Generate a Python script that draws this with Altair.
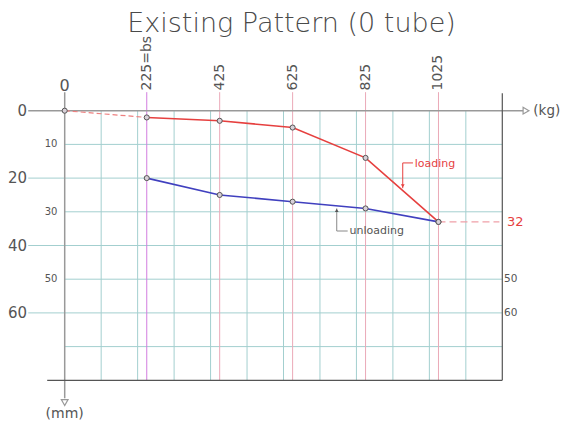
import altair as alt
import pandas as pd

# ---------------- data ----------------
title_text = "Existing Pattern (0 tube)"
loads_kg = [225, 425, 625, 825, 1025]
loading_mm = [2, 3, 5, 14, 33]
unloading_mm = [20, 25, 27, 29, 33]
origin_kg = [0, 225]
origin_mm = [0, 2]
final_label = "32"
x_tick_values = [0, 225, 425, 625, 825, 1025]
x_tick_labels = ["0", "225=bs", "425", "625", "825", "1025"]
y_major = [0, 20, 40, 60]
y_minor = [10, 30, 50]
y_right = [50, 60]
grid_kg = [100, 200, 300, 400, 500, 600, 700, 800, 900, 1000, 1100]
grid_mm = [10, 20, 30, 40, 50, 60, 70]
X_MAX, Y_MAX = 1200, 80

# ---------------- styles ----------------
TEAL = "#a3cfcf"
PINK = "#eba9b8"
MAGENTA = "#d27ddf"
RED = "#e6403f"
BLUE = "#4040bf"
AXIS = "#999999"
DARK = "#555555"
TXT = "#555555"
FONT = "DejaVu Sans"

xs = alt.Scale(domain=[0, X_MAX], nice=False, zero=False)
ys = alt.Scale(domain=[0, Y_MAX], nice=False, zero=False, reverse=True)


def X(f="x"):
    return alt.X(f"{f}:Q", scale=xs, axis=None)


def Y(f="y"):
    return alt.Y(f"{f}:Q", scale=ys, axis=None)


def seg(rows, color, width=1, dash=None):
    df = pd.DataFrame(rows, columns=["x", "y", "x2", "y2"])
    kw = dict(color=color, strokeWidth=width)
    if dash:
        kw["strokeDash"] = dash
    return alt.Chart(df).mark_rule(**kw).encode(
        x=X(), y=Y(), x2=alt.X2("x2:Q"), y2=alt.Y2("y2:Q"))


def text(df, **kw):
    base = dict(font=FONT, color=TXT)
    base.update(kw)
    return alt.Chart(df).mark_text(**base).encode(x=X(), y=Y(), text="t:N")


layers = []

# grid
layers.append(seg([[0, m, X_MAX, m] for m in grid_mm], TEAL))
layers.append(seg([[-100, m, 0, m] for m in y_major if m != 0], TEAL))
layers.append(seg([[k, 0, k, Y_MAX] for k in grid_kg], TEAL))
# load lines
layers.append(seg([[k, -5.5, k, Y_MAX] for k in x_tick_values[2:]], PINK))
layers.append(seg([[x_tick_values[1], -5.5, x_tick_values[1], Y_MAX]], MAGENTA))

# frame / axes
layers.append(seg([[-100, 0, 1257, 0]], AXIS, 1.5))
layers.append(seg([[0, -5.5, 0, 85.3]], AXIS, 1.5))
layers.append(seg([[-48, Y_MAX, X_MAX, Y_MAX]], DARK, 1.2))
layers.append(seg([[X_MAX, -5.2, X_MAX, Y_MAX]], DARK, 1.2))

# arrows on axes
layers.append(alt.Chart(pd.DataFrame({"x": [1265], "y": [0]})).mark_point(
    shape="triangle-right", filled=False, size=45, color=AXIS, strokeWidth=1.2, opacity=1
).encode(x=X(), y=Y()))
layers.append(alt.Chart(pd.DataFrame({"x": [0], "y": [86.6]})).mark_point(
    shape="triangle-down", filled=False, size=45, color=AXIS, strokeWidth=1.2, opacity=1
).encode(x=X(), y=Y()))

# final deflection marker
layers.append(seg([[loads_kg[-1], loading_mm[-1], 1192, loading_mm[-1]]], "#f0a0a8", 1.2, [7, 4]))

# data lines
layers.append(alt.Chart(pd.DataFrame({"x": origin_kg, "y": origin_mm})).mark_line(
    color="#ee8080", strokeWidth=1.2, strokeDash=[5, 3]).encode(x=X(), y=Y()))
layers.append(alt.Chart(pd.DataFrame({"x": loads_kg, "y": loading_mm})).mark_line(
    color=RED, strokeWidth=1.6).encode(x=X(), y=Y()))
layers.append(alt.Chart(pd.DataFrame({"x": loads_kg, "y": unloading_mm})).mark_line(
    color=BLUE, strokeWidth=1.6).encode(x=X(), y=Y()))

# points
pts = pd.DataFrame({"x": origin_kg[:1] + loads_kg + loads_kg,
                    "y": origin_mm[:1] + loading_mm + unloading_mm})
layers.append(alt.Chart(pts).mark_point(
    shape="circle", size=26, filled=True, fill="#d8d0d8", stroke="#555555",
    strokeWidth=1, opacity=1, fillOpacity=1).encode(x=X(), y=Y()))

# annotation leaders
layers.append(seg([[927, 15.5, 955, 15.5], [927, 15.5, 927, 23.0]], RED, 1))
layers.append(alt.Chart(pd.DataFrame({"x": [927], "y": [22.3]})).mark_point(
    shape="triangle-down", filled=True, size=14, color=RED, opacity=1).encode(x=X(), y=Y()))
layers.append(seg([[746, 29.0, 746, 35.7], [746, 35.7, 776, 35.7]], "#888888", 1))
layers.append(alt.Chart(pd.DataFrame({"x": [746], "y": [29.6]})).mark_point(
    shape="triangle-up", filled=True, size=14, color="#555555", opacity=1).encode(x=X(), y=Y()))

# texts
layers.append(text(pd.DataFrame({"x": [622], "y": [-23.3], "t": [title_text]}),
                   fontSize=27, fontWeight=300, align="center", baseline="alphabetic", color="#4a4a4a"))
layers.append(text(pd.DataFrame({"x": x_tick_values[:1], "y": [-5.8], "t": x_tick_labels[:1]}),
                   fontSize=16, align="center", baseline="alphabetic"))
layers.append(text(pd.DataFrame({"x": x_tick_values[1:], "y": [-6.0] * 5, "t": x_tick_labels[1:]}),
                   fontSize=14, angle=270, align="left", baseline="middle"))
layers.append(text(pd.DataFrame({"x": [-103] * 4, "y": y_major, "t": [str(v) for v in y_major]}),
                   fontSize=15, align="right", baseline="middle"))
layers.append(text(pd.DataFrame({"x": [-20] * 3, "y": y_minor, "t": [str(v) for v in y_minor]}),
                   fontSize=10, align="right", baseline="middle"))
layers.append(text(pd.DataFrame({"x": [1205] * 2, "y": y_right, "t": [str(v) for v in y_right]}),
                   fontSize=10.5, align="left", baseline="middle"))
layers.append(text(pd.DataFrame({"x": [1213], "y": [loading_mm[-1]], "t": [final_label]}),
                   fontSize=13, align="left", baseline="middle", color=RED))
layers.append(text(pd.DataFrame({"x": [1285], "y": [0], "t": ["(kg)"]}),
                   fontSize=13.5, align="left", baseline="middle"))
layers.append(text(pd.DataFrame({"x": [0], "y": [90.0], "t": ["(mm)"]}),
                   fontSize=14, align="center", baseline="middle"))
layers.append(text(pd.DataFrame({"x": [960], "y": [15.8], "t": ["loading"]}),
                   fontSize=11, align="left", baseline="middle", color=RED))
layers.append(text(pd.DataFrame({"x": [781], "y": [35.6], "t": ["unloading"]}),
                   fontSize=11, align="left", baseline="middle"))

chart = alt.layer(*layers).properties(
    width=437.6,
    height=269.6,
    padding={"left": 56.7, "top": 102.7, "right": 58.7, "bottom": 40.7},
    autosize=alt.AutoSizeParams(type="none"),
    background="white",
).configure_view(stroke=None)

chart.save("out.html", embed_options={"renderer": "svg", "actions": False})
